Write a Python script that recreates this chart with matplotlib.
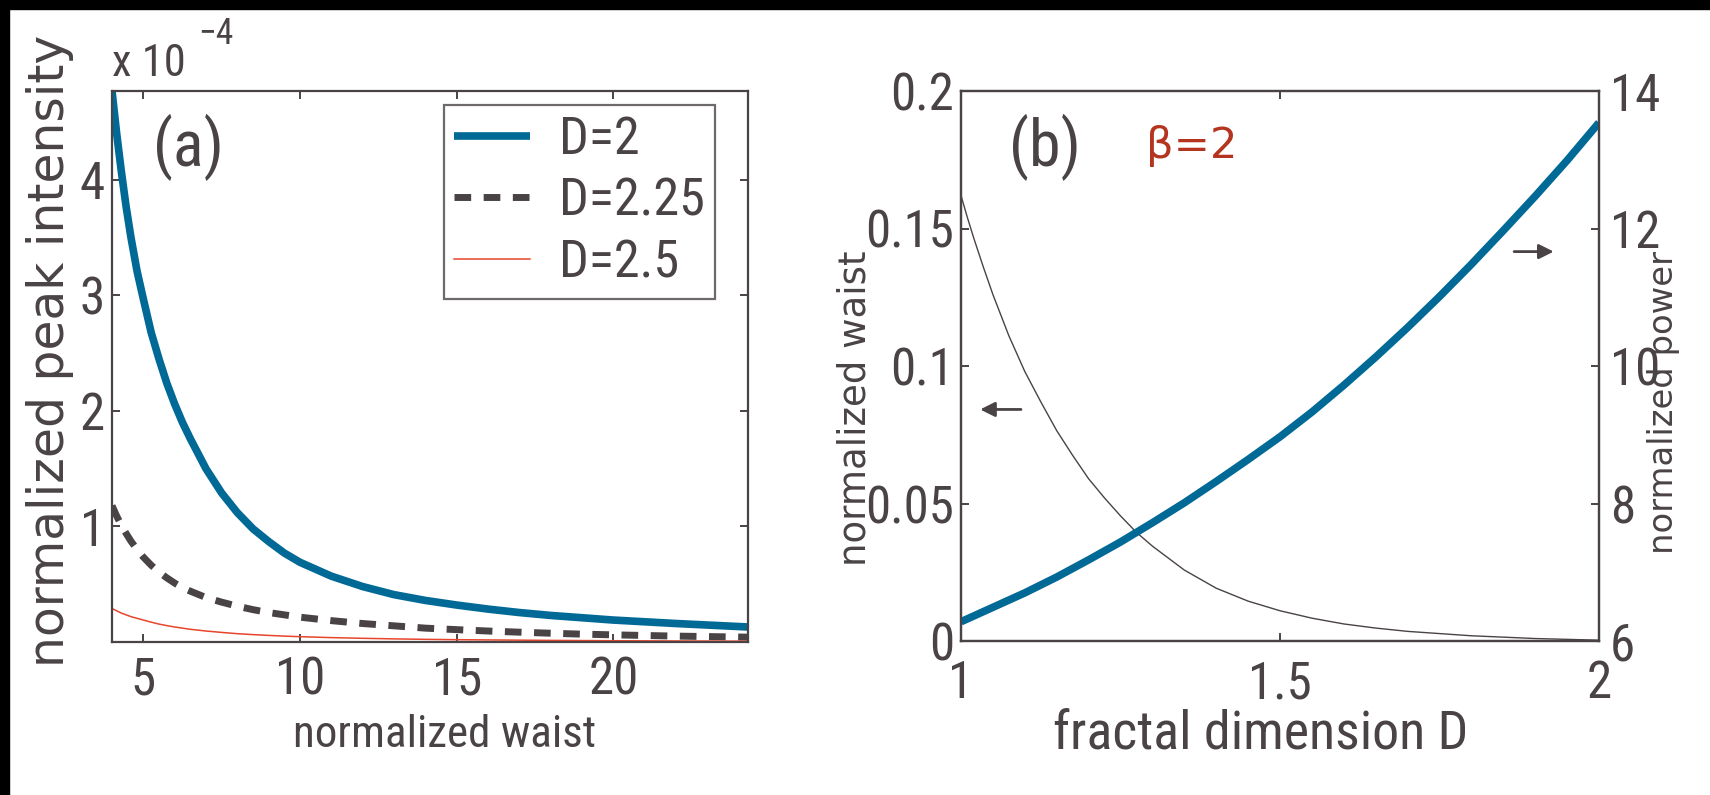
import matplotlib
matplotlib.use("Agg")
import matplotlib.pyplot as plt
from matplotlib.patches import Rectangle
from matplotlib import font_manager as fm
from matplotlib.textpath import TextPath

# ---------------- data ----------------
# panel (a): normalized peak intensity (in units of 1e-4) vs normalized waist
waist = [4, 4.15, 4.3, 4.45, 4.6, 4.8, 5, 5.25, 5.5, 5.75, 6, 6.25, 6.5, 7, 7.5, 8, 8.5,
         9, 9.5, 10, 11, 12, 13, 14, 15, 16, 17, 18, 19, 20, 22, 24.3]
peak_D2 = [4.77, 4.40, 4.07, 3.77, 3.51, 3.21, 2.97, 2.68, 2.45, 2.24, 2.06, 1.90, 1.76,
           1.50, 1.29, 1.12, 0.98, 0.87, 0.77, 0.69, 0.57, 0.48, 0.41, 0.36, 0.32, 0.285,
           0.255, 0.23, 0.21, 0.19, 0.16, 0.13]
peak_D225 = [1.18, 1.09, 1.01, 0.94, 0.875, 0.80, 0.735, 0.665, 0.605, 0.555, 0.51, 0.47,
             0.44, 0.385, 0.345, 0.31, 0.28, 0.255, 0.235, 0.215, 0.185, 0.16, 0.14, 0.12,
             0.107, 0.095, 0.085, 0.076, 0.068, 0.062, 0.051, 0.042]
peak_D25 = [0.29, 0.27, 0.25, 0.235, 0.22, 0.205, 0.19, 0.172, 0.155, 0.142, 0.13, 0.12,
            0.11, 0.095, 0.083, 0.072, 0.064, 0.057, 0.051, 0.046, 0.038, 0.032, 0.027,
            0.023, 0.02, 0.018, 0.016, 0.014, 0.0125, 0.011, 0.009, 0.007]
labels_a = ["D=2", "D=2.25", "D=2.5"]
xticks_a = [5, 10, 15, 20]
yticks_a = [1, 2, 3, 4]

# panel (b): normalized waist (left axis) and normalized power (right axis) vs D
dim_w = [1.0, 1.01, 1.02, 1.035, 1.05, 1.075, 1.1, 1.125, 1.15, 1.175, 1.2, 1.225, 1.25,
         1.275, 1.3, 1.35, 1.4, 1.45, 1.5, 1.55, 1.6, 1.65, 1.7, 1.8, 1.9, 2.0]
waist_b = [0.162, 0.154, 0.1465, 0.136, 0.126, 0.111, 0.098, 0.087, 0.0765, 0.0675, 0.059,
           0.052, 0.0455, 0.0395, 0.0345, 0.0258, 0.0192, 0.0145, 0.0110, 0.0083, 0.0062,
           0.0047, 0.0035, 0.0019, 0.0009, 0.0003]
dim_p = [1.0, 1.05, 1.1, 1.15, 1.2, 1.25, 1.3, 1.35, 1.4, 1.45, 1.5, 1.55, 1.6, 1.65, 1.7,
         1.75, 1.8, 1.85, 1.9, 1.95, 2.0]
power_b = [6.28, 6.49, 6.70, 6.93, 7.18, 7.44, 7.72, 8.01, 8.32, 8.64, 8.97, 9.33, 9.72,
           10.13, 10.56, 11.01, 11.48, 11.97, 12.47, 12.99, 13.54]
xticks_b = [1, 1.5, 2]
xticklabels_b = ["1", "1.5", "2"]
yticks_bl = [0, 0.05, 0.1, 0.15, 0.2]
yticklabels_bl = ["0", "0.05", "0.1", "0.15", "0.2"]
yticks_br = [6, 8, 10, 12, 14]

# ---------------- fonts ----------------
def has_font(name):
    try:
        fm.findfont(fm.FontProperties(family=name), fallback_to_default=False)
        return True
    except Exception:
        return False

def pick_narrow():
    for fam in ["Liberation Sans Narrow", "Roboto Condensed", "Open Sans Condensed",
                "DejaVu Sans Condensed", "Noto Sans Condensed"]:
        if has_font(fam):
            return {"family": fam}
    for fam in ["Liberation Sans", "Noto Sans", "Open Sans", "Roboto", "DejaVu Sans"]:
        try:
            p = fm.findfont(fm.FontProperties(family=fam, stretch="condensed"),
                            fallback_to_default=False)
            if "ondensed" in p or "arrow" in p:
                return {"family": fam, "stretch": "condensed"}
        except Exception:
            pass
    return {"family": "Liberation Sans"}

NF = pick_narrow()
plt.rcParams["font.family"] = [NF["family"], "DejaVu Sans"]
if "stretch" in NF:
    plt.rcParams["font.stretch"] = NF["stretch"]
ROT = "DejaVu Sans"

def fit(s, target_px, max_pt, **fp):
    """font size (pt) whose ink width is target_px, capped at max_pt"""
    prop = fm.FontProperties(**fp)
    w = TextPath((0, 0), s, size=100, prop=prop).get_extents().width * 100 / 72
    return min(100 * target_px / w, max_pt)

TICK = fit("0.15", 84, 37, **NF)
LEG = fit("D=2.25", 140, 38, **NF)
XLA = fit("normalized waist", 299, 38, **NF)
XLB = fit("fractal dimension D", 411, 42, **NF)
PAN = fit("(a)", 64, 46, **NF)
X10 = fit("x 10", 72, 32, **NF)
YLA = fit("normalized peak intensity", 627, 40, family=ROT)
YLB = fit("normalized waist", 311, 30, family=ROT)
YLR = fit("normalized power", 300, 30, family=ROT)
BET = fit("\u03b2=2", 83, 32, family="DejaVu Sans")

GRAY = "#4a4345"
BLUE = "#006996"
RED = "#e8452c"
BETA = "#b43420"
W, H = 1710, 795

fig = plt.figure(figsize=(W / 100, H / 100), dpi=100, facecolor="white")
fig.patches.append(Rectangle((0, 1 - 9 / H), 1, 9 / H, transform=fig.transFigure,
                             color="black", zorder=-1))
fig.patches.append(Rectangle((0, 0), 9 / W, 1, transform=fig.transFigure,
                             color="black", zorder=-1))

def style_axes(ax):
    for s in ax.spines.values():
        s.set_color(GRAY)
        s.set_linewidth(1.6)

# ---------------- panel (a) ----------------
axA = fig.add_axes([112 / W, (H - 642) / H, 636 / W, 551 / H])
style_axes(axA)
axA.plot(waist, peak_D2, color=BLUE, lw=5.5, solid_capstyle="butt",
         solid_joinstyle="round", label=labels_a[0])
axA.plot(waist, peak_D225, color=GRAY, lw=5.0, dashes=(2.4, 1.8), dash_capstyle="butt",
         label=labels_a[1])
axA.plot(waist, peak_D25, color=RED, lw=1.1, label=labels_a[2])
axA.set_xlim(4, 24.3)
axA.set_ylim(0, 4.77)
axA.set_xticks(xticks_a)
axA.set_yticks(yticks_a)
axA.tick_params(direction="in", length=6, width=1.4, color=GRAY, top=True, right=True,
                labelsize=TICK, labelcolor=GRAY)
axA.tick_params(axis="x", pad=10)
axA.tick_params(axis="y", pad=5)
leg = axA.legend(loc="upper left", bbox_to_anchor=(0.522, 0.975), fontsize=LEG,
                 handlelength=1.45, handletextpad=0.55, labelspacing=0.22,
                 borderpad=0.2, borderaxespad=0, fancybox=False, frameon=True)
leg.get_frame().set_edgecolor(GRAY)
leg.get_frame().set_linewidth(1.6)
for t in leg.get_texts():
    t.set_color(GRAY)
axA.text(0.064, 0.898, "(a)", transform=axA.transAxes, fontsize=PAN, color=GRAY,
         ha="left", va="center")
axA.text(0.0, 1.028, "x 10", transform=axA.transAxes, fontsize=X10, color=GRAY,
         ha="left", va="baseline")
axA.text(0.135, 1.085, "\u22124", transform=axA.transAxes, fontsize=X10 * 0.8,
         color=GRAY, ha="left", va="baseline")
axA.set_xlabel("normalized waist", fontsize=XLA, color=GRAY, va="baseline")
axA.xaxis.set_label_coords(0.5236, -0.1906)
fig.text(50 / W, 1 - 351 / H, "normalized peak intensity", family=ROT, fontsize=YLA,
         color=GRAY, rotation=90, ha="center", va="center")

# ---------------- panel (b) ----------------
axB = fig.add_axes([961 / W, (H - 641) / H, 638 / W, 550 / H])
style_axes(axB)
axB2 = axB.twinx()
style_axes(axB2)
axB.plot(dim_w, waist_b, color=GRAY, lw=1.0)
axB2.plot(dim_p, power_b, color=BLUE, lw=5.5, solid_capstyle="butt")
axB.set_xlim(1, 2)
axB.set_ylim(0, 0.2)
axB2.set_ylim(6, 14)
axB.set_xticks(xticks_b)
axB.set_xticklabels(xticklabels_b)
axB.set_yticks(yticks_bl)
axB.set_yticklabels(yticklabels_bl)
axB2.set_yticks(yticks_br)
axB.tick_params(direction="in", length=6, width=1.4, color=GRAY, top=True, right=False,
                labelsize=TICK, labelcolor=GRAY)
axB.tick_params(axis="x", pad=13)
axB.tick_params(axis="y", pad=5)
axB2.tick_params(direction="in", length=6, width=1.4, color=GRAY, labelsize=TICK,
                 labelcolor=GRAY, pad=8)
axB.set_xlabel("fractal dimension D", fontsize=XLB, color=GRAY, va="baseline")
axB.xaxis.set_label_coords(0.470, -0.198)
fig.text(855 / W, 1 - 408 / H, "normalized waist", family=ROT, fontsize=YLB,
         color=GRAY, rotation=90, ha="center", va="center")
fig.text(1663 / W, 1 - 403 / H, "normalized power", family=ROT, fontsize=YLR,
         color=GRAY, rotation=90, ha="center", va="center")
axB.text(0.076, 0.898, "(b)", transform=axB.transAxes, fontsize=PAN, color=GRAY,
         ha="left", va="center")
axB.text(0.29, 0.90, "\u03b2=2", transform=axB.transAxes, fontsize=BET, color=BETA,
         family="DejaVu Sans", ha="left", va="center")
arrow_kw = dict(arrowstyle="-|>", color=GRAY, lw=2, mutation_scale=22, shrinkA=0, shrinkB=0)
axB.annotate("", xy=(0.030, 0.421), xytext=(0.094, 0.421), xycoords="axes fraction",
             textcoords="axes fraction", arrowprops=arrow_kw)
axB.annotate("", xy=(0.929, 0.708), xytext=(0.867, 0.708), xycoords="axes fraction",
             textcoords="axes fraction", arrowprops=arrow_kw)

fig.savefig("out.png", dpi=100, facecolor="white")
